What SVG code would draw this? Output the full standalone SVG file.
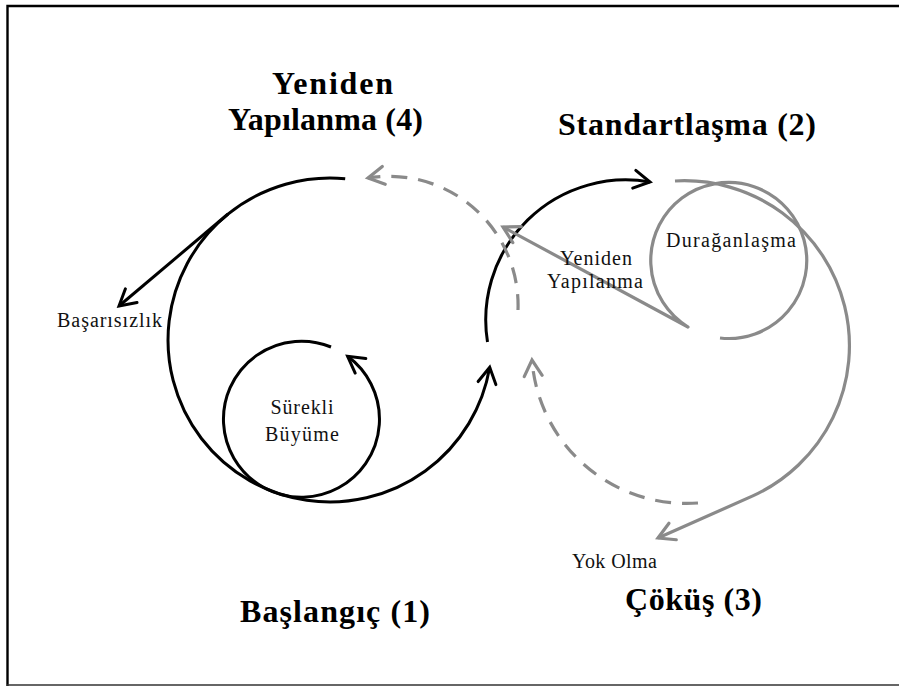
<svg xmlns="http://www.w3.org/2000/svg" width="899" height="686" viewBox="0 0 899 686">
  <style>
    .title { font-family: "Liberation Serif", "Times New Roman", serif; font-weight: bold; font-size: 32px; fill: #000; }
    .label { font-family: "Liberation Serif", "Times New Roman", serif; font-size: 20px; fill: #111; }
    .blk { fill: none; stroke: #000; stroke-width: 3; stroke-linejoin: round; }
    .gry { fill: none; stroke: #8a8a8a; stroke-width: 3.2; stroke-linejoin: round; }
    .dash { stroke-dasharray: 16 11; }
  </style>
  <defs>
    <marker id="arrowBlack" viewBox="-18 -11 20 22" markerWidth="20" markerHeight="22" refX="0" refY="0" orient="auto" markerUnits="userSpaceOnUse" overflow="visible">
      <path d="M-16,-9 L0,0 L-16,9" fill="none" stroke="#000" stroke-width="3" stroke-linecap="round" stroke-linejoin="miter"/>
    </marker>
    <marker id="arrowGray" viewBox="-18 -11 20 22" markerWidth="20" markerHeight="22" refX="0" refY="0" orient="auto" markerUnits="userSpaceOnUse" overflow="visible">
      <path d="M-16,-9 L0,0 L-16,9" fill="none" stroke="#8a8a8a" stroke-width="3.2" stroke-linecap="round" stroke-linejoin="miter"/>
    </marker>
  </defs>

  <rect width="899" height="686" fill="#fff"/>
  <!-- frame -->
  <path d="M7.5,686 V6 H899" fill="none" stroke="#000" stroke-width="2.4"/>
  <path d="M7,685 H899" fill="none" stroke="#333" stroke-width="1.4"/>

  <g id="connectors">
    <!-- main growth loop (left) -->
    <path class="blk" d="M345.2,178.7 A162,162 0 1 0 489.7,367.3" marker-end="url(#arrowBlack)"/>
    <!-- failure branch -->
    <path class="blk" d="M228,214 L119,306" marker-end="url(#arrowBlack)"/>
    <!-- continuous growth inner loop -->
    <path class="blk" d="M331,347 A78,78 0 1 0 347.6,356.3" marker-end="url(#arrowBlack)"/>
    <!-- path into standardisation -->
    <path class="blk" d="M487.5,342 A140,140 0 0 1 650,182" marker-end="url(#arrowBlack)"/>
    <!-- restructuring return (upper dashed) -->
    <path class="gry dash" d="M518,310 A129,129 0 0 0 368,178" marker-end="url(#arrowGray)"/>
    <!-- recovery from collapse (lower dashed) -->
    <path class="gry dash" d="M698,503 A155,155 0 0 1 532,360" marker-end="url(#arrowGray)"/>
    <!-- stagnation loop with restructuring exit -->
    <path class="gry" d="M720,338 A78,78 0 1 0 688,327 L503,227" marker-end="url(#arrowGray)"/>
    <!-- decline towards extinction -->
    <path class="gry" d="M675,181 A165,165 0 0 1 752.8,495.9 L658,538" marker-end="url(#arrowGray)"/>
  </g>

  <g id="stage-restructuring">
    <text class="title" x="272" y="94" textLength="121">Yeniden</text>
    <text class="title" x="228" y="130" textLength="195">Yapılanma (4)</text>
  </g>
  <g id="stage-standardisation">
    <text class="title" x="558" y="135" textLength="258">Standartlaşma (2)</text>
  </g>
  <g id="stage-start">
    <text class="title" x="240" y="622" textLength="190">Başlangıç (1)</text>
  </g>
  <g id="stage-collapse">
    <text class="title" x="625" y="610" textLength="137">Çöküş (3)</text>
  </g>
  <g id="outcome-failure">
    <text class="label" x="57" y="327" textLength="105">Başarısızlık</text>
  </g>
  <g id="loop-growth">
    <text class="label" x="302" y="414" text-anchor="middle" textLength="63">Sürekli</text>
    <text class="label" x="302" y="441" text-anchor="middle" textLength="74">Büyüme</text>
  </g>
  <g id="loop-restructuring">
    <text class="label" x="560" y="265" textLength="72">Yeniden</text>
    <text class="label" x="547" y="288" textLength="96">Yapılanma</text>
  </g>
  <g id="loop-stagnation">
    <text class="label" x="666" y="247" textLength="130">Durağanlaşma</text>
  </g>
  <g id="outcome-extinction">
    <text class="label" x="572" y="568" textLength="85">Yok Olma</text>
  </g>
</svg>
